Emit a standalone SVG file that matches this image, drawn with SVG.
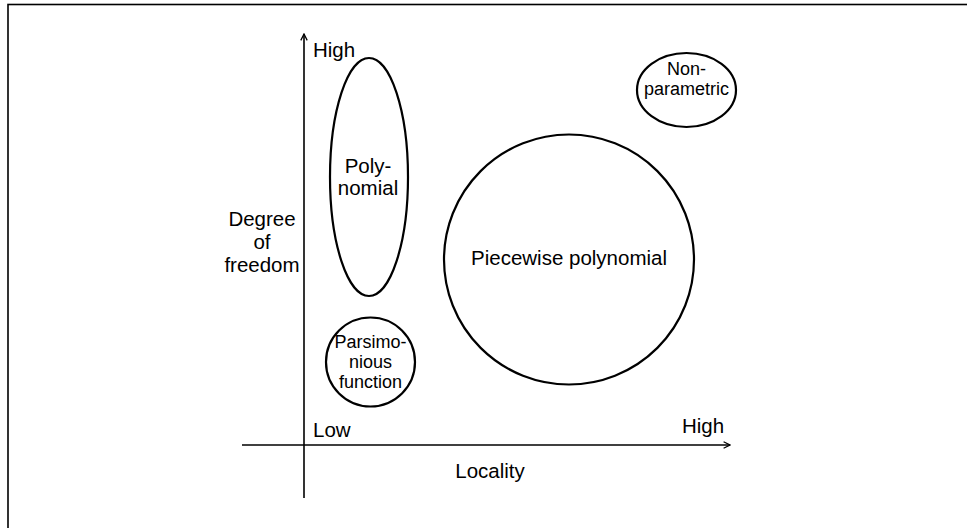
<svg xmlns="http://www.w3.org/2000/svg" width="967" height="528" viewBox="0 0 967 528">
<style>
text{font-family:"Liberation Sans",Arial,sans-serif;fill:#000;text-anchor:middle;font-size:20.5px}
.sm{font-size:18px}
.n{fill:none;stroke:#000;stroke-width:2.2}
.ax{stroke:#000;stroke-width:1.6;fill:none}
</style>
<defs>
<marker id="arr" viewBox="0 0 10 10" refX="9" refY="5" markerWidth="8" markerHeight="8" markerUnits="userSpaceOnUse" orient="auto">
<path d="M1,1 L9,5 L1,9" fill="none" stroke="#000" stroke-width="1.6"/>
</marker>
</defs>
<rect x="0" y="0" width="967" height="528" fill="#fff"/>
<rect x="8" y="4.5" width="980" height="540" fill="none" stroke="#000" stroke-width="1.6"/>
<g id="connectors">
<line class="ax" x1="304" y1="498" x2="304" y2="34" marker-end="url(#arr)"/>
<line class="ax" x1="242" y1="445" x2="730" y2="445" marker-end="url(#arr)"/>
</g>
<g id="labels">
<text x="313" y="57" style="text-anchor:start">High</text>
<text x="313" y="437" style="text-anchor:start">Low</text>
<text x="703" y="433">High</text>
<text x="490" y="478">Locality</text>
<text x="262" y="226">Degree</text>
<text x="262" y="249">of</text>
<text x="262" y="272">freedom</text>
</g>
<g id="polynomial">
<ellipse class="n" cx="369" cy="177" rx="39" ry="119"/>
<text x="368" y="173">Poly-</text>
<text x="368" y="195">nomial</text>
</g>
<g id="parsimonious">
<circle class="n" cx="370.5" cy="362" r="44.5"/>
<text class="sm" x="370.5" y="348">Parsimo-</text>
<text class="sm" x="370.5" y="368">nious</text>
<text class="sm" x="370.5" y="388">function</text>
</g>
<g id="piecewise">
<circle class="n" cx="569" cy="259.5" r="125"/>
<text x="569" y="265">Piecewise polynomial</text>
</g>
<g id="nonparametric">
<ellipse class="n" cx="686.5" cy="90" rx="49.5" ry="37"/>
<text class="sm" x="686.5" y="75">Non-</text>
<text class="sm" x="686.5" y="95">parametric</text>
</g>
</svg>
